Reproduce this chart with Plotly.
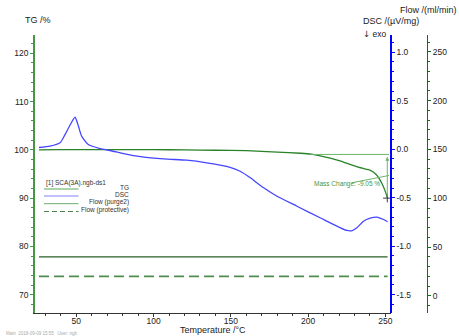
import plotly.graph_objects as go

# ---------------- data ----------------
tg_T = [25.9, 40, 60, 80, 100, 120, 140, 160, 180, 195, 202, 210, 220, 228, 235, 240, 244, 247.5, 250, 251.3]
tg_val = [100.0, 100.03, 100.05, 100.05, 100.04, 100.0, 99.92, 99.83, 99.55, 99.3, 99.1, 98.6, 97.75, 96.9, 96.2, 95.8, 94.9, 93.2, 91.3, 90.05]

dsc_T = [25.9, 33, 39.5, 42.7, 46, 49.2, 51.4, 53.5, 57.8, 65.4, 71.8, 86.9, 106.3, 121.4, 134.4,
         149.5, 156, 162.6, 171.2, 179.9, 192.8, 207.7, 225, 228.2, 231.5, 235.8, 240.1, 244.5, 248.8, 251.4]
dsc_val = [0.018, 0.031, 0.066, 0.15, 0.25, 0.33, 0.237, 0.134, 0.048, 0.007, -0.013, -0.065, -0.099, -0.113, -0.14,
           -0.186, -0.227, -0.295, -0.398, -0.485, -0.588, -0.707, -0.838, -0.841, -0.81, -0.742, -0.711, -0.70, -0.725, -0.748]

flow_T = [25.9, 251.4]
flow_purge = [40, 40]
flow_protective = [20, 20]

mass_change = -9.05
mc_T = 251.2
mc_upper = 99.05
mc_lower = 90.0
mc_line_start = 202.0

x_ticks = [50, 100, 150, 200, 250]
tg_ticks = [70, 80, 90, 100, 110, 120]
dsc_ticks = [-1.5, -1.0, -0.5, 0.0, 0.5, 1.0]
flow_ticks = [0, 50, 100, 150, 200, 250]

legend_title = "[1] SCA(3A).ngb-ds1"
legend_labels = ["TG", "DSC", "Flow (purge2)", "Flow (protective)"]

# ---------------- layout geometry ----------------
W, H = 459, 336
L, R, T, B = 35, 427, 35, 313  # plot area in pixels


def px(x):
    return (x - L) / (R - L)


def py(y):
    return (B - y) / (B - T)


FONT = "Liberation Sans, Arial, sans-serif"
TG_GREEN = "rgb(40,130,40)"
AX_GREEN = "rgb(70,150,70)"
FLOW_GREEN = "rgb(20,110,20)"
BLUE = "rgb(0,0,255)"
DSC_BLUE = "rgb(70,70,255)"

fig = go.Figure()

fig.add_trace(go.Scatter(x=flow_T, y=flow_purge, yaxis="y3", mode="lines",
                         line=dict(color="rgb(40,95,40)", width=1.2), name="Flow (purge2)"))
fig.add_trace(go.Scatter(x=flow_T, y=flow_protective, yaxis="y3", mode="lines",
                         line=dict(color="rgb(80,140,80)", width=1.6, dash="10px,5px"), name="Flow (protective)"))
fig.add_trace(go.Scatter(x=dsc_T, y=dsc_val, yaxis="y2", mode="lines",
                         line=dict(color=DSC_BLUE, width=1.3, shape="spline", smoothing=0.6), name="DSC"))
fig.add_trace(go.Scatter(x=tg_T, y=tg_val, yaxis="y", mode="lines",
                         line=dict(color=TG_GREEN, width=1.3, shape="spline", smoothing=0.5), name="TG"))

# mass change marker
fig.add_trace(go.Scatter(x=[mc_T], y=[mc_lower], yaxis="y", mode="markers",
                         marker=dict(symbol="cross-thin", size=6, line=dict(color="rgb(60,60,60)", width=1)),
                         name="mc"))

tick_font = dict(family=FONT, size=8.5, color="#222")

fig.update_layout(
    width=W, height=H,
    margin=dict(l=L, r=W - R, t=T, b=H - B, pad=0, autoexpand=False),
    paper_bgcolor="white", plot_bgcolor="white",
    showlegend=False,
    font=dict(family=FONT, size=9, color="#222"),
    xaxis=dict(domain=[0, (391 - L) / (R - L)], range=[23.3, 253.6], showgrid=False, zeroline=False,
               showline=True, linecolor="#333", linewidth=1, automargin=False,
               tickvals=x_ticks, ticks="outside", ticklen=3, tickcolor="#333", tickfont=tick_font,
               ticklabelstandoff=-3,
               minor=dict(dtick=10, ticks="outside", ticklen=2, tickcolor="#333"),
               anchor="y"),
    yaxis=dict(range=[66.2, 123.8], showgrid=False, zeroline=False, showline=True, automargin=False,
               linecolor=AX_GREEN, linewidth=1.5, tickvals=tg_ticks, ticks="outside", ticklen=3,
               tickcolor=AX_GREEN, tickfont=tick_font,
               minor=dict(dtick=2, ticks="outside", ticklen=2, tickcolor=AX_GREEN)),
    yaxis2=dict(range=[-1.689, 1.178], overlaying="y", side="right", anchor="free", automargin=False,
                position=(391 - L) / (R - L), showgrid=False, zeroline=False, showline=True,
                linecolor=BLUE, linewidth=1.5, tickvals=dsc_ticks,
                ticktext=[f"{v:.1f}" for v in dsc_ticks], ticks="outside", ticklen=3,
                tickcolor=BLUE, tickfont=tick_font,
                minor=dict(dtick=0.1, ticks="outside", ticklen=2, tickcolor=BLUE)),
    yaxis3=dict(range=[-17.5, 267.2], overlaying="y", side="right", anchor="free", position=1.0,
                automargin=False,
                showgrid=False, zeroline=False, showline=True, linecolor=FLOW_GREEN, linewidth=1.2,
                tickvals=flow_ticks, ticks="outside", ticklen=3, tickcolor=FLOW_GREEN, tickfont=tick_font,
                minor=dict(dtick=10, ticks="outside", ticklen=2, tickcolor=FLOW_GREEN)),
)

shapes = []
annotations = []

# mass change annotation lines
shapes.append(dict(type="line", xref="x", yref="y", x0=mc_line_start, x1=252.3, y0=mc_upper, y1=mc_upper,
                   line=dict(color="rgb(110,180,110)", width=1)))
shapes.append(dict(type="line", xref="x", yref="y", x0=228.4, y0=93.2, x1=mc_T + 1.2, y1=94.7,
                   line=dict(color="rgb(110,180,110)", width=1)))
annotations.append(dict(x=mc_T, y=mc_upper - 0.5, xref="x", yref="y", ax=mc_T, ay=mc_lower,
                        axref="x", ayref="y", showarrow=True, arrowhead=2, arrowsize=0.8, arrowwidth=1,
                        arrowcolor="rgb(110,180,110)", text=""))
annotations.append(dict(x=247.8, y=92.84, xref="x", yref="y", xanchor="right", yanchor="middle",
                        text=f"Mass Change: {mass_change:.2f} %", showarrow=False,
                        font=dict(family=FONT, size=6.5, color="rgb(70,150,70)")))

# axis titles
annotations.append(dict(x=px(22.5), y=py(20), xref="paper", yref="paper", xanchor="left", yanchor="middle",
                        text="TG /%", showarrow=False, font=dict(family=FONT, size=9, color="#222")))
annotations.append(dict(x=px(459), y=py(10), xref="paper", yref="paper", xanchor="right", yanchor="middle",
                        text="Flow /(ml/min)", showarrow=False, font=dict(family=FONT, size=9, color="#222")))
annotations.append(dict(x=px(420.5), y=py(21), xref="paper", yref="paper", xanchor="right", yanchor="middle",
                        text="DSC /(µV/mg)", showarrow=False, font=dict(family=FONT, size=9, color="#222")))
annotations.append(dict(x=px(388), y=py(34), xref="paper", yref="paper", xanchor="right", yanchor="middle",
                        text="<span style='font-family:DejaVu Sans'>↓</span> exo", showarrow=False,
                        font=dict(family=FONT, size=8.5, color="#222")))
annotations.append(dict(x=px(213), y=py(330), xref="paper", yref="paper", xanchor="center", yanchor="middle",
                        text="Temperature /°C", showarrow=False, font=dict(family=FONT, size=9, color="#222")))
annotations.append(dict(x=px(4), y=py(333), xref="paper", yref="paper", xanchor="left", yanchor="middle",
                        text="Main  2018-09-09 15:55   User: ngb", showarrow=False,
                        font=dict(family=FONT, size=4.5, color="#aaa")))

# legend box (drawn)
annotations.append(dict(x=px(43.5), y=py(182.7), xref="paper", yref="paper", xanchor="left", yanchor="middle",
                        text=legend_title, showarrow=False, font=dict(family=FONT, size=6.5, color="#333")))
leg_rows = [189, 196, 203.7, 211.5]
leg_styles = [dict(color="rgb(90,165,90)", width=1),
              dict(color="rgb(130,130,255)", width=1),
              dict(color="rgb(110,170,110)", width=1),
              dict(color="rgb(80,130,80)", width=1, dash="5px,3px")]
for yy, lab, st in zip(leg_rows, legend_labels, leg_styles):
    shapes.append(dict(type="line", xref="paper", yref="paper", x0=px(44), x1=px(78.5), y0=py(yy), y1=py(yy),
                       line=st))
    annotations.append(dict(x=px(130.5), y=py(yy - 1.5), xref="paper", yref="paper", xanchor="right",
                            yanchor="middle", text=lab, showarrow=False,
                            font=dict(family=FONT, size=6.5, color="#333")))

fig.update_layout(shapes=shapes, annotations=annotations)

fig.write_html("out.html")
